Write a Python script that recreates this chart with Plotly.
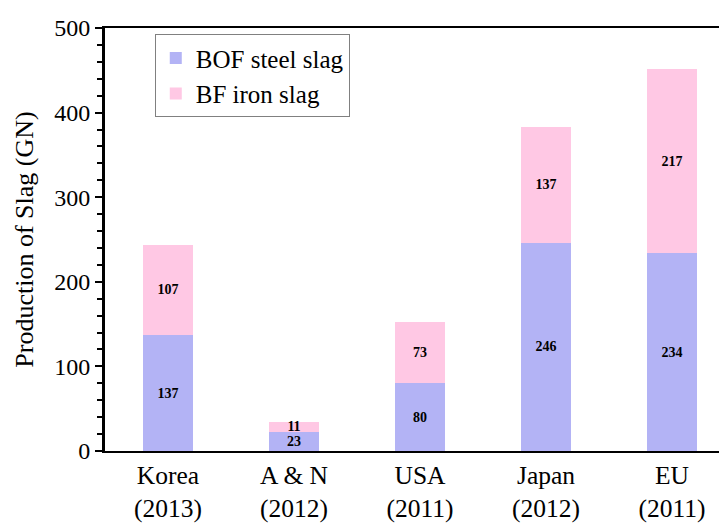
import plotly.graph_objects as go

categories = ["Korea<br>(2013)", "A & N<br>(2012)", "USA<br>(2011)", "Japan<br>(2012)", "EU<br>(2011)"]
bof_values = [137, 23, 80, 246, 234]
bf_values = [107, 11, 73, 137, 217]

FONT = "Liberation Serif"
BLUE = "#b3b3f5"
PINK = "#ffc8e4"

fig = go.Figure()
for name, vals, color, grp in [("BOF steel slag", bof_values, BLUE, "a"),
                               ("BF iron slag", bf_values, PINK, "b")]:
    fig.add_trace(go.Bar(
        x=categories, y=vals, name=name,
        marker=dict(color=color, line=dict(width=0)),
        text=[str(v) for v in vals], textposition="inside",
        insidetextanchor="middle", constraintext="none", textangle=0,
        textfont=dict(family=FONT, size=14, color="black", weight="bold"),
        width=0.4, legendgroup=grp,
    ))

fig.update_layout(
    width=727, height=523,
    margin=dict(l=97, r=0, t=20, b=80),
    barmode="stack",
    paper_bgcolor="white", plot_bgcolor="white",
    font=dict(family=FONT, size=24, color="black"),
    showlegend=True,
    legend=dict(
        x=0.079, y=0.985, xanchor="left", yanchor="top",
        bordercolor="#808080", borderwidth=1, bgcolor="white",
        font=dict(family=FONT, size=25, color="black"),
        tracegroupgap=10, traceorder="normal",
    ),
    xaxis=dict(
        range=[-0.5, 4.5], showline=True, linecolor="black", linewidth=2,
        mirror=True, ticks="", showgrid=False, zeroline=False,
        tickfont=dict(family=FONT, size=25.5, color="black"),
        automargin=False,
    ),
    yaxis=dict(
        range=[0, 500], dtick=100, showline=True, linecolor="black", linewidth=3,
        ticks="outside", ticklen=7, tickwidth=2, tickcolor="black",
        minor=dict(dtick=20, ticks="outside", ticklen=5, tickwidth=2, tickcolor="black"),
        showgrid=False, zeroline=False,
        tickfont=dict(family=FONT, size=24, color="black"),
        title=dict(text="Production of Slag (GN)", font=dict(family=FONT, size=26, color="black"), standoff=14),
        automargin=False,
    ),
    yaxis2=dict(
        range=[0, 500], dtick=100, overlaying="y", side="left",
        ticks="inside", ticklen=7, tickwidth=2, tickcolor="black",
        showticklabels=False, showgrid=False, zeroline=False, showline=False,
    ),
)

fig.write_html("out.html")
